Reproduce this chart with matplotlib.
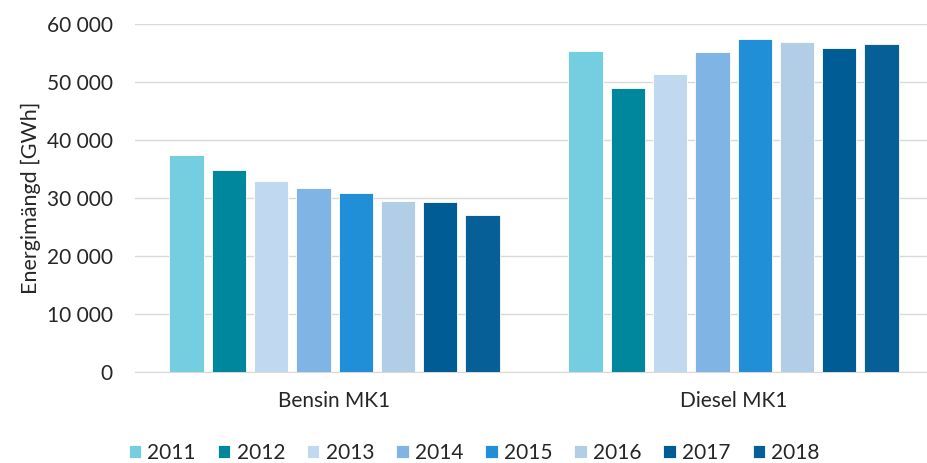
import matplotlib.pyplot as plt
import numpy as np

plt.rcParams['font.family'] = ['Lato', 'DejaVu Sans']

categories = ['Bensin MK1', 'Diesel MK1']
years = ['2011', '2012', '2013', '2014', '2015', '2016', '2017', '2018']
bensin = [37400, 34750, 33000, 31650, 30800, 29450, 29250, 27000]
diesel = [55400, 48950, 51450, 55150, 57350, 56950, 55800, 56500]
colors = ['#75CDE0', '#00879E', '#C0D9F0', '#7FB4E4',
          '#208FD8', '#B2CDE6', '#005C94', '#065F96']

fig = plt.figure(figsize=(9.28, 4.63), dpi=100)
ax = fig.add_axes([0.1455, 0.1965, 0.86, 0.7516])

x = np.arange(len(categories))
step = 0.106
width = 0.086
for i, yr in enumerate(years):
    vals = [bensin[i], diesel[i]]
    ax.bar(x + (i - 3.5) * step, vals, width, color=colors[i], label=yr,
           edgecolor='white', linewidth=0.6, zorder=3)

ax.set_xlim(-0.5, 1.5)
ax.set_ylim(0, 60000)
ax.set_yticks(range(0, 60001, 10000))
ax.set_yticklabels([f'{v:,}'.replace(',', ' ') for v in range(0, 60001, 10000)],
                   fontsize=15, color='#262626')
ax.set_xticks(x)
ax.set_xticklabels(categories, fontsize=15, color='#262626')
ax.tick_params(axis='y', length=0, pad=16)
ax.tick_params(axis='x', length=0, pad=14)
ax.grid(axis='y', color='#D9D9D9', linewidth=1, zorder=0)
for s in ['top', 'right', 'left']:
    ax.spines[s].set_visible(False)
ax.spines['bottom'].set_color('#D9D9D9')
ax.set_ylabel('Energimängd [GWh]', fontsize=15.5, color='#262626', labelpad=4)

fig.legend(*ax.get_legend_handles_labels(), loc='center', bbox_to_anchor=(0.511, 0.022),
           ncol=8, frameon=False, fontsize=15, handlelength=0.6, handleheight=0.6,
           handletextpad=0.3, columnspacing=1.05, labelcolor='#262626',
           borderpad=0, borderaxespad=0)

fig.savefig('out.png', dpi=100)
